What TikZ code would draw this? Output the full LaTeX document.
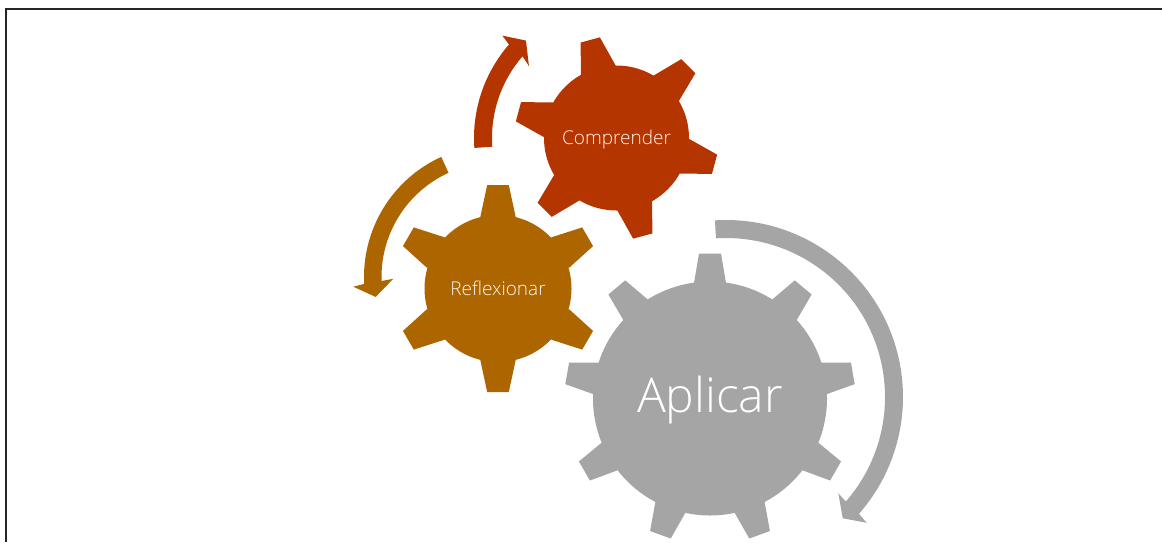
\documentclass[tikz,border=0pt]{standalone}
\usepackage{fontspec}
\setmainfont{Open Sans}[UprightFont=* Light]
\usepackage{tikz}
\definecolor{redcog}{HTML}{B43500}
\definecolor{browncog}{HTML}{AD6500}
\definecolor{graycog}{HTML}{A5A5A5}
\definecolor{lighttext}{HTML}{FBF5EF}
\tikzset{cog/.style = {circle, inner sep=0pt, text=lighttext}}

\begin{document}
\begin{tikzpicture}[x=1pt, y=1pt]
    \useasboundingbox (0, 0) rectangle (1162, -542);
    \draw [line width=2pt, black!85] (5.5, -542) -- (5.5, -9.3) -- (1162, -9.3);

    \node [cog, fill=redcog, minimum size=145pt, font=\fontsize{19}{22}\selectfont]
      (comprender) at (616.5, -138) {\raisebox{-2pt}[\height][\depth]{Comprender}};
    \foreach \a in {105, 45, -15, -75, -135, 165} {
      \fill [redcog, shift={(comprender.center)}, rotate=\a]
        (70, -18) -- (101.5, -10) -- (101.5, 10) -- (70, 18) -- cycle;
    }

    \node [cog, fill=browncog, minimum size=147pt, font=\fontsize{19}{22}\selectfont]
      (reflexionar) at (498, -288.5) {Reflexionar};
    \foreach \a in {90, 30, -30, -90, -150, 150} {
      \fill [browncog, shift={(reflexionar.center)}, rotate=\a]
        (71.5, -17.7) -- (103.5, -10.8) -- (103.5, 10.8) -- (71.5, 17.7) -- cycle;
    }

    \node [cog, fill=graycog, text=white, minimum size=234pt, font=\fontsize{48}{52}\selectfont]
      (aplicar) at (710, -398.5) {\raisebox{-2pt}[\height][\depth]{Aplicar}};
    \foreach \a in {90, 50, 10, -30, -70, -110, -150, 170, 130} {
      \fill [graycog, shift={(aplicar.center)}, rotate=\a]
        (115.5, -16) -- (145, -11) -- (145, 11) -- (115.5, 16) -- cycle;
    }

    % curved arrows
    \fill [redcog, shift={(comprender.center)}]
      (184:142.5) arc [start angle=184, end angle=139, radius=142.5]
      -- (138.1:153.3) -- (132.9:133) -- (140.6:113.3) -- (139:124.5)
      arc [start angle=139, end angle=184, radius=124.5] -- cycle;
    \fill [browncog, shift={(496, -277)}]
      (114.5:132) arc [start angle=114.5, end angle=183, radius=132]
      -- (183.9:143) -- (189.4:122) -- (181:102.7) -- (182:114.5)
      arc [start angle=182, end angle=114.5, radius=114.5] -- cycle;
    \fill [graycog, shift={(726, -397)}]
      (93.6:177) arc [start angle=93.6, end angle=-41.3, radius=177]
      -- (-41.8:188.7) -- (-46.1:168.3) -- (-40.6:148) -- (-41.1:159)
      arc [start angle=-41.1, end angle=93.6, radius=159] -- cycle;
\end{tikzpicture}
\end{document}
